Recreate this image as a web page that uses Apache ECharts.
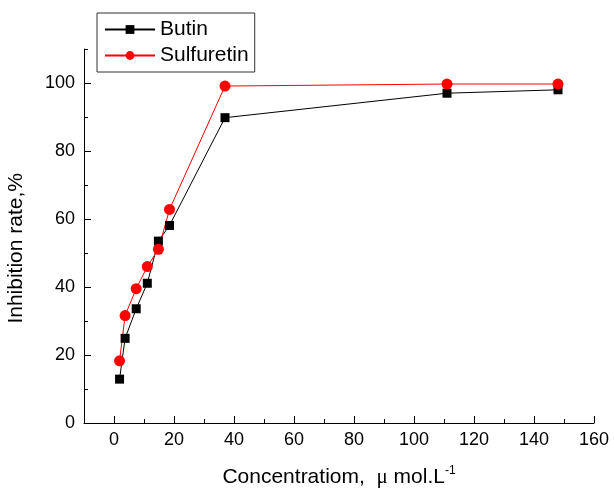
<!DOCTYPE html>
<html>
<head>
<meta charset="utf-8">
<script src="https://cdn.jsdelivr.net/npm/echarts@6/dist/echarts.min.js"></script>
<style>
html,body{margin:0;padding:0;background:#fff;}
#chart{width:614px;height:493px;}
</style>
</head>
<body>
<div id="chart"></div>
<script>
var concentrations = [1.85, 3.7, 7.4, 11.1, 14.8, 18.5, 37, 111, 148];
var butin = [12.9, 24.9, 33.6, 41.1, 53.5, 58.1, 89.8, 97.0, 98.0];
var sulfuretin = [18.3, 31.6, 39.5, 46.0, 51.1, 62.8, 99.1, 99.7, 99.7];
var seriesNames = ['Butin', 'Sulfuretin'];
var xMajorTicks = [0, 20, 40, 60, 80, 100, 120, 140, 160];
var xMinorTicks = [10, 30, 50, 70, 90, 110, 130, 150];
var yMajorTicks = [0, 20, 40, 60, 80, 100];
var yMinorTicks = [10, 30, 50, 70, 90, 110];
var xTitle = 'Concentratiom,';
var yTitle = 'Inhibition rate,%';

function pairs(xs, ys) { return xs.map(function (x, i) { return [x, ys[i]]; }); }

var FONT = "'Liberation Sans', Arial, sans-serif";
var chart = echarts.init(document.getElementById('chart'), null, {renderer: 'canvas'});

function axisBase(min, max) {
  return {
    type: 'value', min: min, max: max, gridIndex: 0,
    splitLine: {show: false}
  };
}

chart.setOption({
  animation: false,
  backgroundColor: '#fff',
  textStyle: {fontFamily: FONT},
  grid: {left: 84, right: 20, top: 49, bottom: 69, containLabel: false},
  legend: {
    orient: 'vertical', left: 97, top: 13,
    data: seriesNames,
    itemWidth: 50, itemHeight: 11, itemGap: 5,
    padding: [6, 6, 6, 7],
    borderColor: '#333', borderWidth: 1,
    textStyle: {fontFamily: FONT, fontSize: 21, color: '#000'}
  },
  xAxis: [
    Object.assign(axisBase(-10, 160), {
      position: 'bottom',
      axisLine: {show: true, onZero: false, lineStyle: {color: '#000', width: 1}},
      name: '{a|' + xTitle + '  }{mu|\u03bc}{a| mol.L}{sup|-1}',
      nameLocation: 'middle', nameGap: 42,
      nameTextStyle: {
        rich: {
          a: {fontFamily: FONT, fontSize: 21, color: '#000'},
          mu: {fontFamily: "'Liberation Serif', 'Times New Roman', serif", fontSize: 21, color: '#000'},
          sup: {fontFamily: FONT, fontSize: 12, color: '#000', verticalAlign: 'top', padding: [0, 0, 13, 0]}
        }
      },
      axisTick: {show: true, inside: true, length: 7, customValues: xMajorTicks, lineStyle: {color: '#000'}},
      axisLabel: {show: true, customValues: xMajorTicks, margin: 8, fontSize: 18, color: '#000', fontFamily: FONT}
    }),
    Object.assign(axisBase(-10, 160), {
      position: 'bottom', offset: 0,
      axisLine: {show: false, onZero: false},
      axisTick: {show: true, inside: true, length: 4, customValues: xMinorTicks, lineStyle: {color: '#000'}},
      axisLabel: {show: false}
    })
  ],
  yAxis: [
    Object.assign(axisBase(0, 110), {
      position: 'left',
      axisLine: {show: true, onZero: false, lineStyle: {color: '#000', width: 1}},
      axisTick: {show: true, inside: true, length: 7, customValues: yMajorTicks, lineStyle: {color: '#000'}},
      axisLabel: {show: true, customValues: yMajorTicks, margin: 9, fontSize: 18, color: '#000', fontFamily: FONT}
    }),
    Object.assign(axisBase(0, 110), {
      position: 'left', offset: 0,
      axisLine: {show: false, onZero: false},
      axisTick: {show: true, inside: true, length: 4, customValues: yMinorTicks, lineStyle: {color: '#000'}},
      axisLabel: {show: false}
    })
  ],
  graphic: [{
    type: 'text', left: 6, top: 173, rotation: Math.PI / 2,
    style: {text: yTitle, font: '21px ' + FONT, fill: '#000'}
  }],
  series: [
    {
      name: seriesNames[0], type: 'line', xAxisIndex: 0, yAxisIndex: 0,
      data: pairs(concentrations, butin),
      symbol: 'rect', symbolSize: 9,
      lineStyle: {color: '#000', width: 1},
      itemStyle: {color: '#000'}
    },
    {
      name: seriesNames[1], type: 'line', xAxisIndex: 0, yAxisIndex: 0,
      data: pairs(concentrations, sulfuretin),
      symbol: 'circle', symbolSize: 11,
      lineStyle: {color: '#ff0000', width: 1},
      itemStyle: {color: '#ff0000'}
    }
  ]
});
</script>
</body>
</html>
